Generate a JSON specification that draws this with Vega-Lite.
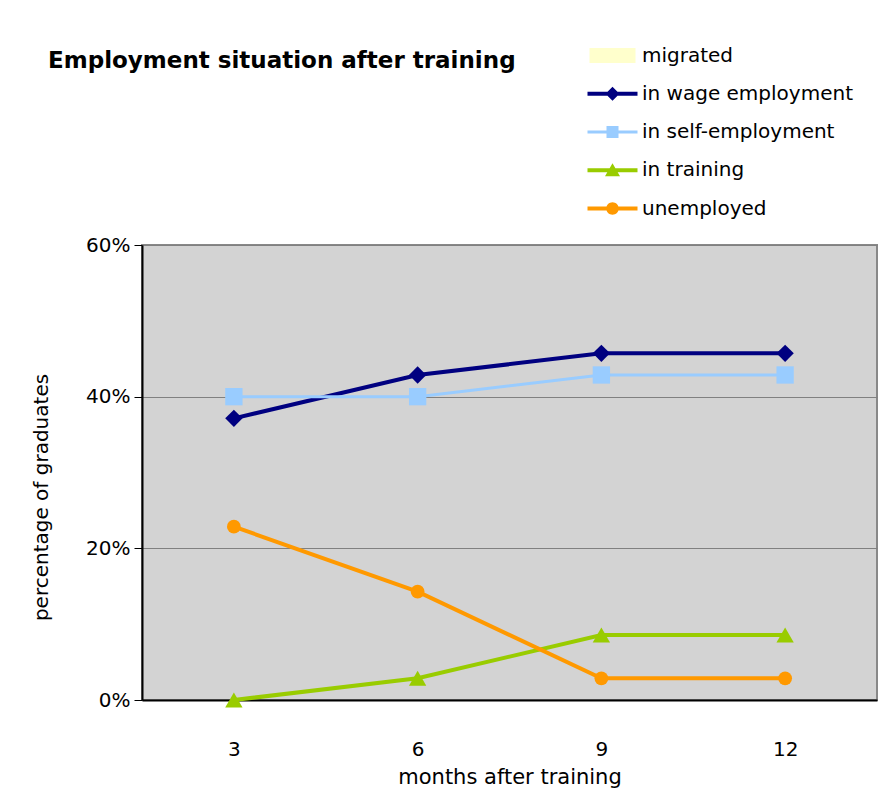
{
  "$schema": "https://vega.github.io/schema/vega-lite/v6.json",
  "width": 735,
  "height": 455,
  "autosize": "none",
  "padding": {"left": 142, "top": 245, "right": 10, "bottom": 99},
  "background": "white",
  "title": {
    "text": "Employment situation after training",
    "anchor": "start",
    "frame": "group",
    "offset": -30,
    "dx": -94,
    "fontSize": 23,
    "font": "DejaVu Sans",
    "fontWeight": "bold",
    "color": "black"
  },
  "config": {
    "font": "DejaVu Sans",
    "view": {"fill": "#D3D3D3", "stroke": "#888888", "strokeWidth": 2}
  },
  "data": {
    "values": [
      {"month": "3", "series": "in wage employment", "value": 0.3714},
      {"month": "6", "series": "in wage employment", "value": 0.4286},
      {"month": "9", "series": "in wage employment", "value": 0.4571},
      {"month": "12", "series": "in wage employment", "value": 0.4571},
      {"month": "3", "series": "in self-employment", "value": 0.4},
      {"month": "6", "series": "in self-employment", "value": 0.4},
      {"month": "9", "series": "in self-employment", "value": 0.4286},
      {"month": "12", "series": "in self-employment", "value": 0.4286},
      {"month": "3", "series": "in training", "value": 0},
      {"month": "6", "series": "in training", "value": 0.0286},
      {"month": "9", "series": "in training", "value": 0.0857},
      {"month": "12", "series": "in training", "value": 0.0857},
      {"month": "3", "series": "unemployed", "value": 0.2286},
      {"month": "6", "series": "unemployed", "value": 0.1429},
      {"month": "9", "series": "unemployed", "value": 0.0286},
      {"month": "12", "series": "unemployed", "value": 0.0286}
    ]
  },
  "encoding": {
    "x": {
      "field": "month",
      "type": "ordinal",
      "sort": ["3", "6", "9", "12"],
      "scale": {"paddingInner": 0, "paddingOuter": 0},
      "axis": {
        "title": "months after training",
        "titleFontSize": 21,
        "titleFontWeight": "normal",
        "titleColor": "black",
        "titlePadding": 7,
        "labelFontSize": 20,
        "labelColor": "black",
        "labelAngle": 0,
        "labelPadding": 39,
        "ticks": false,
        "domainColor": "black",
        "domainWidth": 2,
        "grid": false
      }
    },
    "y": {
      "field": "value",
      "type": "quantitative",
      "scale": {"domain": [0, 0.6], "nice": false},
      "axis": {
        "title": "percentage of graduates",
        "titleFontSize": 20,
        "titleFontWeight": "normal",
        "titleColor": "black",
        "titlePadding": 34,
        "titleY": 252,
        "format": ".0%",
        "values": [0, 0.2, 0.4, 0.6],
        "labelFontSize": 20,
        "labelColor": "black",
        "labelPadding": 4,
        "tickSize": 8,
        "tickColor": "black",
        "domainColor": "black",
        "domainWidth": 2,
        "gridColor": "#808080",
        "gridWidth": 1
      }
    },
    "color": {
      "field": "series",
      "type": "nominal",
      "scale": {
        "domain": ["migrated", "in wage employment", "in self-employment", "in training", "unemployed"],
        "range": ["#FFFFCC", "#000080", "#99CCFF", "#99CC00", "#FF9900"]
      },
      "legend": {
        "orient": "none",
        "legendX": 458,
        "legendY": -202,
        "title": null,
        "labelFontSize": 20,
        "labelColor": "black",
        "labelLimit": 400,
        "symbolSize": 625,
        "symbolStrokeWidth": 0,
        "symbolOpacity": 1,
        "rowPadding": 15.25,
        "labelOffset": 17
      }
    }
  },
  "layer": [
    {
      "mark": {"type": "point", "filled": true, "opacity": 0},
      "encoding": {
        "shape": {
          "field": "series",
          "type": "nominal",
          "scale": {
            "domain": ["migrated", "in wage employment", "in self-employment", "in training", "unemployed"],
            "range": [
              "M-1.84,-0.6H1.84V0.6H-1.84Z",
              "M-2,-0.16H2V0.16H-2Z M0,-0.56L0.56,0L0,0.56L-0.56,0Z",
              "M-2,-0.12H2V0.12H-2Z M-0.48,-0.48H0.48V0.48H-0.48Z",
              "M-2,-0.16H2V0.16H-2Z M0,-0.56L0.6,0.48H-0.6Z",
              "M-2,-0.16H2V0.16H-2Z M-0.5,0A0.5,0.5 0 1,1 0.5,0A0.5,0.5 0 1,1 -0.5,0Z"
            ]
          },
          "legend": {
            "orient": "none",
            "legendX": 458,
            "legendY": -202,
            "title": null,
            "labelFontSize": 20,
            "labelColor": "black",
            "labelLimit": 400,
            "symbolSize": 625,
            "symbolStrokeWidth": 0,
            "symbolOpacity": 1,
            "rowPadding": 15.25,
            "labelOffset": 17
          }
        }
      }
    },
    {
      "mark": {"type": "line"},
      "encoding": {
        "strokeWidth": {
          "condition": {"test": "datum.series === 'in self-employment'", "value": 3},
          "value": 4
        }
      }
    },
    {
      "mark": {"type": "point", "filled": true, "opacity": 1},
      "encoding": {
        "shape": {
          "condition": [
            {"test": "datum.series === 'in wage employment'", "value": "diamond"},
            {"test": "datum.series === 'in self-employment'", "value": "square"},
            {"test": "datum.series === 'in training'", "value": "triangle-up"}
          ],
          "value": "circle"
        },
        "size": {
          "condition": {"test": "datum.series === 'unemployed'", "value": 190},
          "value": 300
        }
      }
    }
  ]
}
